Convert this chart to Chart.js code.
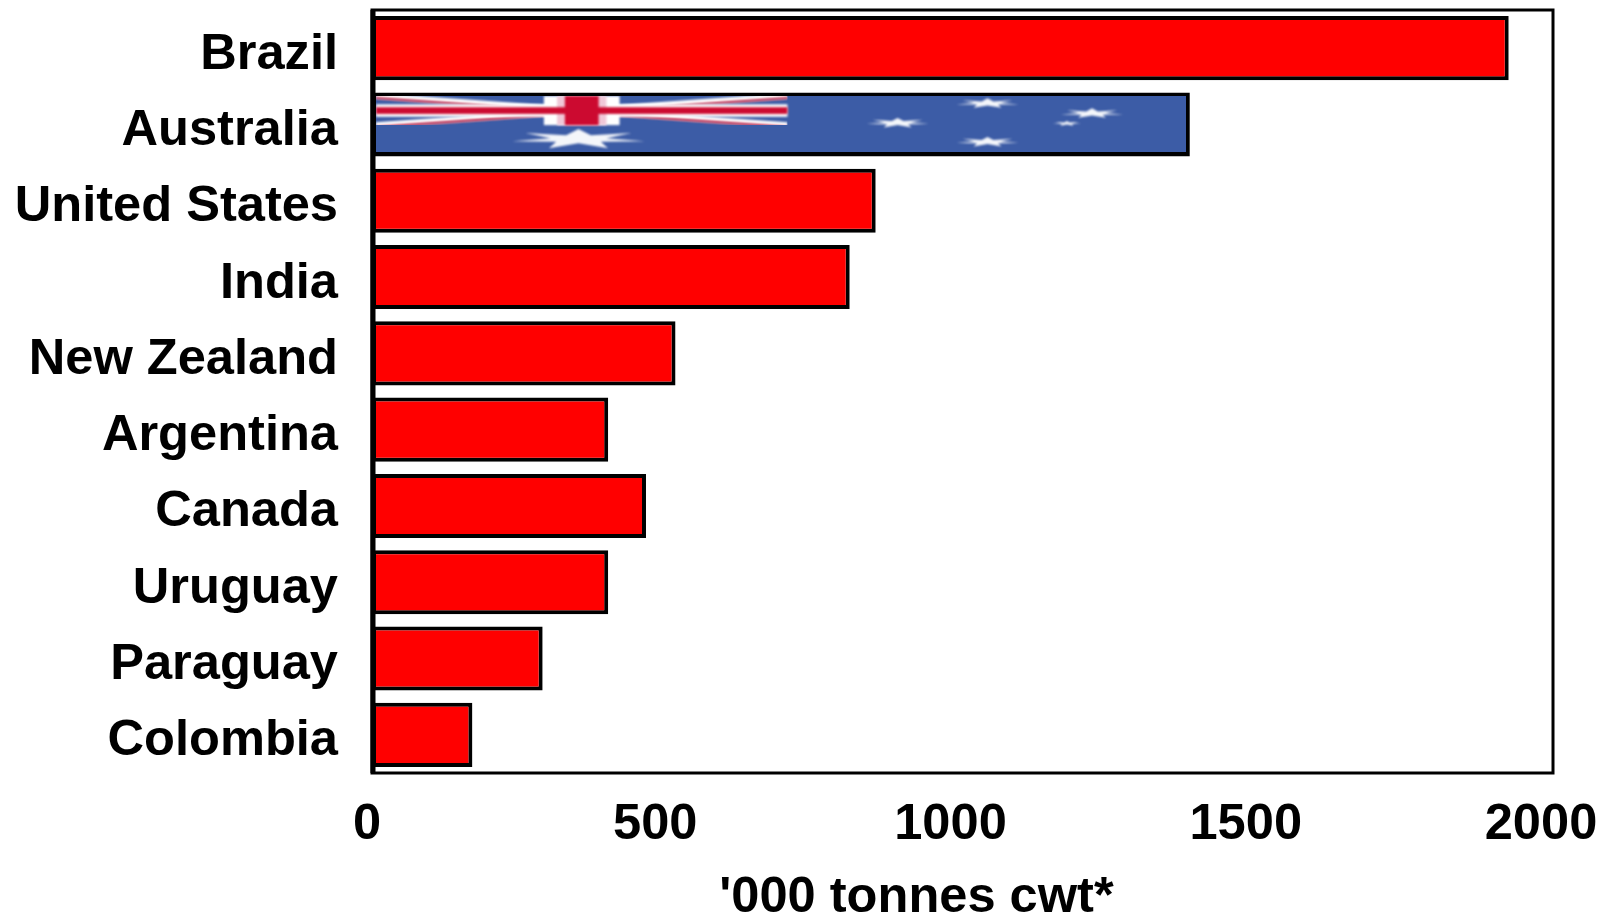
<!DOCTYPE html>
<html>
<head>
<meta charset="utf-8">
<title>Beef exporters</title>
<script src="https://cdn.jsdelivr.net/npm/chart.js@4"></script>
<style>
  html, body { margin: 0; padding: 0; background: #fff; }
  #wrap { width: 1606px; height: 917px; }
</style>
</head>
<body>
<div id="wrap"><canvas id="chart"></canvas></div>
<script>
const countries = ['Brazil', 'Australia', 'United States', 'India', 'New Zealand', 'Argentina', 'Canada', 'Uruguay', 'Paraguay', 'Colombia'];
const tonnes = [1925, 1385, 853, 809, 514, 400, 464, 400, 289, 170];
const xTicks = [0, 500, 1000, 1500, 2000];
const xTitle = "'000 tonnes cwt*";
const flagBar = 'Australia';

const font = { family: '"Liberation Sans", Arial, sans-serif', size: 50.6, weight: 'bold' };
const barBorder = 4;

// Stretched star, cx/cy in canvas pixels
function drawStar(ctx, cx, cy, rx, ry) {
  ctx.beginPath();
  for (let i = 0; i < 14; i++) {
    const a = -Math.PI / 2 + i * Math.PI / 7;
    const r = i % 2 ? 0.42 : 1;
    ctx.lineTo(cx + Math.cos(a) * rx * r, cy + Math.sin(a) * ry * r);
  }
  ctx.closePath();
  ctx.fill();
}

// Fill one bar with the Australian flag, stretched to the bar's box
const flagPlugin = {
  id: 'flagFill',
  afterDatasetsDraw(chart) {
    const bar = chart.getDatasetMeta(0).data[countries.indexOf(flagBar)];
    const x0 = Math.round(bar.base + barBorder);
    const y0 = Math.round(bar.y - bar.height / 2 + barBorder);
    const w = Math.round(bar.x - bar.base - barBorder * 2);
    const h = Math.round(bar.height - barBorder * 2);
    const ctx = chart.ctx;
    ctx.save();
    ctx.fillStyle = '#000';
    ctx.fillRect(x0 - 1, y0 - 1, w + 2, h + 2);
    ctx.beginPath();
    ctx.rect(x0, y0, w, h);
    ctx.clip();
    ctx.filter = 'blur(0.8px)';
    ctx.fillStyle = '#3c5ca6';
    ctx.fillRect(x0 - 4, y0 - 4, w + 8, h + 8);

    // union jack in the top left quarter
    const uw = w * 0.508, uh = h * 0.52;
    const diag = (ax, ay, bx, by, color, lw) => {
      ctx.strokeStyle = color;
      ctx.lineWidth = lw;
      ctx.beginPath();
      ctx.moveTo(x0 + ax, y0 + ay);
      ctx.lineTo(x0 + bx, y0 + by);
      ctx.stroke();
    };
    ctx.save();
    ctx.beginPath();
    ctx.rect(x0, y0, uw, uh);
    ctx.clip();
    diag(0, 0, uw, uh, '#fff', 6);
    diag(uw, 0, 0, uh, '#fff', 6);
    diag(0, 2, uw, uh + 2, '#b8123a', 2);
    diag(uw, 2, 0, uh + 2, '#b8123a', 2);
    ctx.restore();
    ctx.fillStyle = '#fff';
    ctx.fillRect(x0, y0 + uh * 0.285, uw, uh * 0.43);
    ctx.fillRect(x0 + uw * 0.5 - uw * 0.092, y0, uw * 0.184, uh);
    ctx.fillStyle = '#f0c8d8';
    ctx.fillRect(x0 + uw * 0.5 - uw * 0.06, y0, uw * 0.12, uh);
    ctx.fillStyle = '#cc0a30';
    ctx.fillRect(x0, y0 + uh * 0.385, uw, uh * 0.23);
    ctx.fillRect(x0 + uw * 0.5 - uw * 0.041, y0, uw * 0.082, uh);

    // stars
    ctx.fillStyle = '#f4f6fa';
    drawStar(ctx, x0 + w * 0.25, y0 + h * 0.77, 68, 10);
    drawStar(ctx, x0 + w * 0.755, y0 + h * 0.13, 32, 5);
    drawStar(ctx, x0 + w * 0.884, y0 + h * 0.31, 32, 5);
    drawStar(ctx, x0 + w * 0.853, y0 + h * 0.49, 15, 2.5);
    drawStar(ctx, x0 + w * 0.755, y0 + h * 0.82, 32, 5);
    drawStar(ctx, x0 + w * 0.644, y0 + h * 0.48, 32, 5);
    ctx.restore();
  }
};

// Frame round the plot and the axis title, which sits left of the plot centre
const framePlugin = {
  id: 'frame',
  afterDraw(chart) {
    const { left, right, top, bottom } = chart.chartArea;
    const ctx = chart.ctx;
    ctx.save();
    ctx.strokeStyle = '#000';
    ctx.lineWidth = 3;
    ctx.strokeRect(left, top, right - left, bottom - top);
    // left axis merges with the bar outlines
    ctx.lineWidth = 5;
    ctx.beginPath();
    ctx.moveTo(left + 1, top);
    ctx.lineTo(left + 1, bottom);
    ctx.stroke();
    ctx.fillStyle = '#000';
    ctx.font = `${font.weight} ${font.size}px ${font.family}`;
    ctx.textAlign = 'center';
    ctx.textBaseline = 'alphabetic';
    ctx.fillText(xTitle, left + (right - left) * 0.461, bottom + 139);
    ctx.restore();
  }
};

new Chart(document.getElementById('chart'), {
  type: 'bar',
  data: {
    labels: countries,
    datasets: [{
      data: tonnes,
      backgroundColor: '#ff0000',
      borderColor: '#000',
      borderWidth: barBorder,
      borderSkipped: false,
      categoryPercentage: 1,
      barPercentage: 0.84
    }]
  },
  options: {
    indexAxis: 'y',
    responsive: true,
    maintainAspectRatio: false,
    animation: false,
    layout: { padding: { top: 10, right: 53, left: 0, bottom: 0 } },
    plugins: { legend: { display: false }, tooltip: { enabled: false } },
    scales: {
      x: {
        min: 0,
        max: 2000,
        afterBuildTicks(scale) { scale.ticks = xTicks.map(value => ({ value })); },
        afterFit(scale) { scale.height = 144; scale.paddingLeft = 0; scale.paddingRight = 0; },
        grid: { display: false },
        border: { display: false },
        ticks: {
          color: '#000',
          font,
          maxRotation: 0,
          autoSkip: false,
          padding: 14,
          labelOffset: -12,
          // leading space keeps the zero closer to the axis, as in the source
          callback: value => (value === 0 ? ' 0' : String(value))
        }
      },
      y: {
        afterFit(scale) { scale.width = 372; scale.paddingTop = 0; scale.paddingBottom = 0; },
        grid: { display: false },
        border: { display: false },
        ticks: { color: '#000', font, padding: 26, labelOffset: 6.5, autoSkip: false }
      }
    }
  },
  plugins: [flagPlugin, framePlugin]
});
</script>
</body>
</html>
